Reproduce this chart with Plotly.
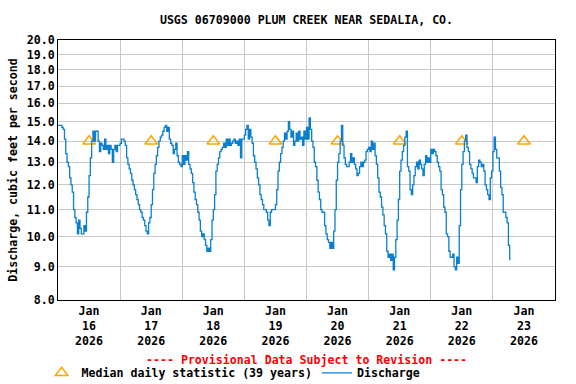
import pandas as pd
import plotly.graph_objects as go

# Discharge readings every 30 minutes, starting 2026-01-16 00:00 (cfs)
discharge_jan16 = [14.8, 14.8, 14.8, 14.7, 14.6, 14.1, 13.4, 13.0, 12.8, 12.3, 12.0, 11.7,
                   11.0, 10.7, 10.5, 10.1, 10.6, 10.3, 10.1, 10.1, 10.4, 10.2, 10.9, 11.5,
                   12.4, 13.2, 14.0, 14.5, 14.0, 14.5, 14.5, 14.0, 13.5, 13.9, 13.8, 13.6,
                   14.1, 13.6, 13.8, 13.4, 13.8, 13.6, 13.0, 13.6, 13.8, 13.5, 13.8, 13.8]
discharge_jan17 = [13.9, 14.1, 14.1, 14.0, 13.8, 13.2, 12.9, 12.7, 12.5, 12.2, 12.0, 11.8,
                   11.6, 11.4, 11.2, 11.0, 10.9, 10.7, 10.6, 10.4, 10.2, 10.1, 10.5, 10.7,
                   11.2, 11.8, 12.5, 12.9, 13.3, 13.7, 14.0, 14.2, 14.3, 14.5, 14.7, 14.8,
                   14.5, 14.7, 14.1, 13.9, 13.8, 13.4, 13.6, 13.9, 13.3, 13.0, 12.9, 12.8]
discharge_jan18 = [13.3, 12.9, 13.3, 13.1, 13.5, 12.9, 12.7, 12.5, 12.1, 11.7, 11.4, 11.2,
                   10.9, 10.6, 10.2, 10.0, 10.1, 9.9, 9.7, 9.5, 9.6, 9.5, 9.9, 10.6,
                   11.0, 11.6, 12.6, 12.9, 13.2, 13.5, 13.6, 13.7, 13.9, 13.7, 14.1, 13.8,
                   14.1, 13.8, 13.9, 14.0, 14.1, 13.9, 14.0, 13.8, 14.1, 13.2, 14.1, 14.1]
discharge_jan19 = [14.3, 14.6, 14.8, 14.1, 14.6, 14.2, 13.9, 13.3, 13.0, 12.7, 12.3, 12.0,
                   11.6, 11.4, 11.2, 11.0, 11.0, 10.9, 10.6, 10.4, 10.9, 11.0, 11.0, 11.0,
                   11.2, 11.8, 12.6, 13.0, 13.4, 13.7, 14.0, 14.4, 14.1, 14.5, 15.0, 14.6,
                   14.2, 14.5, 13.8, 14.0, 14.4, 14.0, 14.5, 14.1, 14.2, 13.8, 14.5, 14.1]
discharge_jan20 = [14.7, 14.1, 15.2, 14.6, 14.0, 13.7, 13.0, 12.8, 12.2, 11.7, 11.4, 11.0,
                   10.9, 10.9, 10.4, 10.1, 9.9, 9.8, 9.6, 9.8, 9.6, 10.2, 11.0, 12.2,
                   13.0, 13.4, 14.0, 14.8, 13.8, 13.2, 12.9, 12.8, 12.8, 13.0, 13.4, 13.0,
                   13.2, 12.9, 12.7, 12.4, 12.5, 12.8, 13.0, 12.8, 13.0, 13.1, 13.5, 13.6]
discharge_jan21 = [13.7, 13.5, 14.0, 13.6, 13.9, 13.3, 12.9, 12.3, 11.7, 11.5, 11.1, 10.8,
                   10.4, 10.1, 9.5, 9.3, 9.4, 9.2, 9.4, 8.9, 9.3, 9.9, 10.6, 11.4,
                   12.6, 13.1, 13.5, 13.8, 14.2, 14.5, 12.8, 12.6, 11.8, 11.6, 12.0, 12.4,
                   12.8, 13.0, 12.7, 13.1, 12.9, 12.7, 12.4, 12.9, 13.3, 13.0, 13.2, 13.0]
discharge_jan22 = [13.6, 13.4, 13.6, 13.5, 13.3, 13.0, 12.8, 12.6, 11.8, 11.6, 11.1, 10.9,
                   10.1, 10.0, 9.5, 9.3, 9.3, 9.4, 9.0, 8.9, 9.3, 9.1, 10.4, 11.8,
                   12.9, 13.5, 14.0, 14.3, 13.7, 13.5, 12.9, 12.7, 12.5, 12.3, 12.3, 12.1,
                   12.8, 13.1, 13.0, 12.8, 12.9, 12.6, 12.0, 11.8, 11.6, 11.4, 12.3, 12.6]
discharge_jan23 = [13.5, 14.2, 13.6, 13.2, 13.2, 12.6, 11.9, 11.6, 10.9, 10.9, 10.7, 10.5,
                   9.7, 9.2]

discharge = (discharge_jan16 + discharge_jan17 + discharge_jan18 + discharge_jan19
             + discharge_jan20 + discharge_jan21 + discharge_jan22 + discharge_jan23)

median_days = ["2026-01-16 12:00", "2026-01-17 12:00", "2026-01-18 12:00", "2026-01-19 12:00",
               "2026-01-20 12:00", "2026-01-21 12:00", "2026-01-22 12:00", "2026-01-23 12:00"]
median_values = [14.0, 14.0, 14.0, 14.0, 14.0, 14.0, 14.0, 14.0]

y_ticks = [8, 9, 10, 11, 12, 13, 14, 15, 16, 17, 18, 19, 20]
y_labels = ["%.1f" % v for v in y_ticks]

times = pd.date_range("2026-01-16 00:00", periods=len(discharge), freq="30min")

font_mono = "DejaVu Sans Mono"
fsize = 11.6

fig = go.Figure()
fig.add_trace(
    go.Scatter(name="Median daily statistic (39 years)",
               x=median_days, y=median_values,
               mode="markers",
               marker=dict(symbol="triangle-up-open", size=11, color="#FFA500",
                           line=dict(width=1.5, color="#FFA500"))))
fig.add_trace(
    go.Scatter(name="Discharge",
               x=times, y=discharge,
               mode="lines",
               line=dict(color="#0a7fcf", width=1.3, shape="hv")))

fig.update_layout(
    width=576, height=384,
    margin=dict(l=58, r=21, t=40, b=84, autoexpand=False),
    paper_bgcolor="white", plot_bgcolor="white",
    font=dict(family=font_mono, size=fsize, color="black", weight="bold"),
    title=dict(text="USGS 06709000 PLUM CREEK NEAR SEDALIA, CO.",
               x=0.5, xref="paper", y=1 - 20 / 384, yref="container", yanchor="middle",
               font=dict(family=font_mono, size=fsize, weight="bold")),
    showlegend=True,
    legend=dict(orientation="h", x=-0.033, xanchor="left", y=-0.28, yanchor="middle",
                font=dict(family=font_mono, size=fsize, weight="bold"),
                itemwidth=30, tracegroupgap=0, bgcolor="rgba(0,0,0,0)"),
)

fig.update_xaxes(
    type="date", automargin=False,
    range=["2026-01-16 00:00", "2026-01-24 00:00"],
    dtick=86400000, tick0="2026-01-16",
    ticklabelmode="period", tickformat="%b<br>%d<br>%Y",
    showgrid=True, gridcolor="#c8c8c8", gridwidth=1,
    showline=True, linecolor="black", linewidth=1, mirror=True,
    ticks="", tickfont=dict(family=font_mono, size=fsize, weight="bold"),
)
fig.update_yaxes(
    type="log", automargin=False,
    range=[0.90309, 1.30103],
    tickvals=y_ticks, ticktext=y_labels,
    showgrid=True, gridcolor="#c8c8c8", gridwidth=1,
    showline=True, linecolor="black", linewidth=1, mirror=True,
    ticks="", tickfont=dict(family=font_mono, size=fsize, weight="bold"),
    title=dict(text="Discharge, cubic feet per second", standoff=6,
               font=dict(family=font_mono, size=fsize, weight="bold")),
)

fig.add_annotation(text="---- Provisional Data Subject to Revision ----",
                   x=0.5, xref="paper", y=-0.229, yref="paper", yanchor="middle",
                   showarrow=False,
                   font=dict(family=font_mono, size=fsize, color="red", weight="bold"))

# page body has a default 8px margin; drop it so the figure sits at the window's corner
fig.write_html("out.html", config={"displayModeBar": False},
               post_script="document.body.style.margin='0';")
